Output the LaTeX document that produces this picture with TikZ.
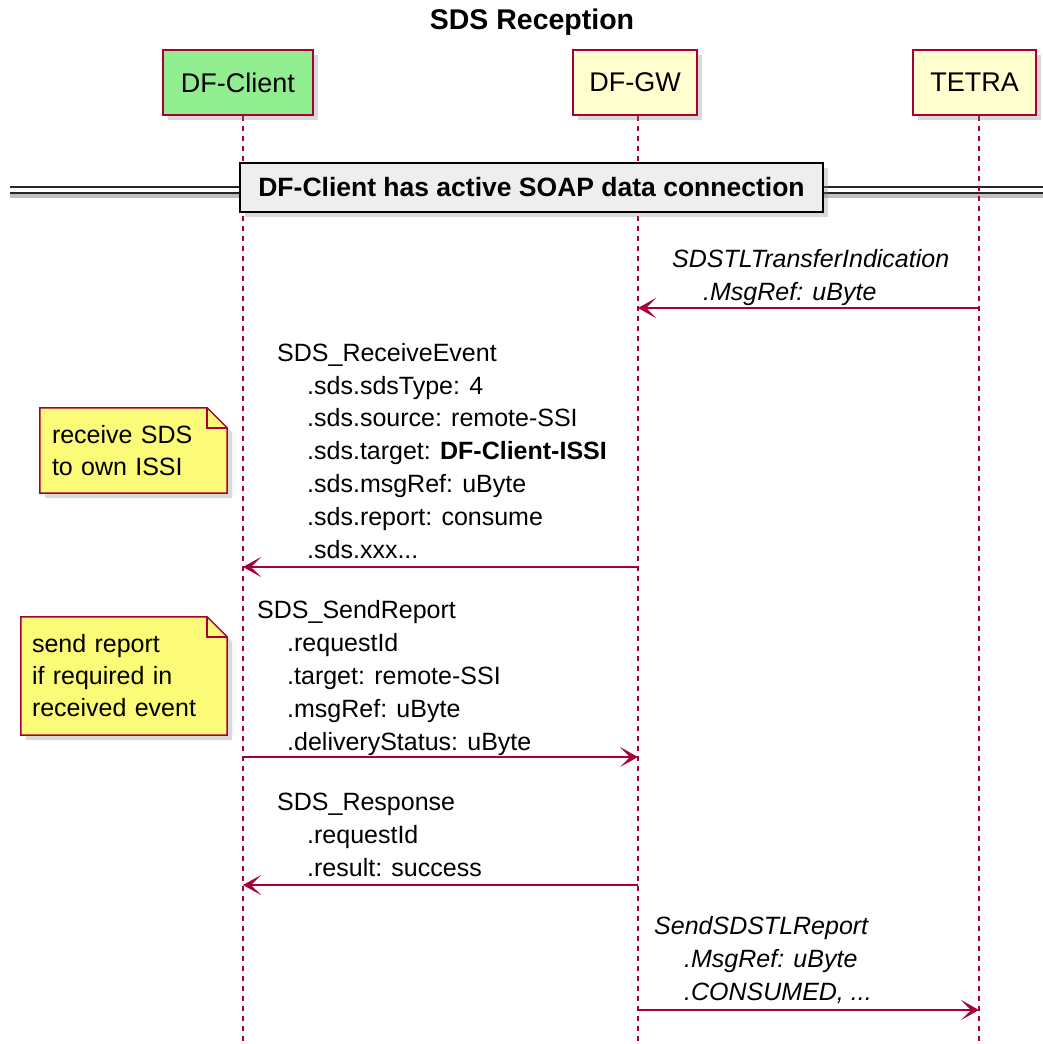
\documentclass[tikz,border=0pt]{standalone}
\usepackage{fontspec}
\setmainfont{Liberation Sans}
\usetikzlibrary{arrows.meta,shadows}
\definecolor{umlred}{HTML}{A80036}
\definecolor{umlyellow}{HTML}{FEFECE}
\definecolor{umlgreen}{HTML}{90EE90}
\definecolor{umlnote}{HTML}{FBFB77}
\definecolor{umlgrey}{HTML}{EEEEEE}
\pgfdeclarelayer{background layer}
\pgfsetlayers{background layer,main}
\tikzstyle{box}=[rectangle,draw=umlred,line width=2pt,fill=umlyellow,minimum height=65pt,inner sep=0pt,font=\fontsize{27}{32}\selectfont,drop shadow={shadow xshift=5pt,shadow yshift=-5pt,opacity=0.3}]
\tikzstyle{divbox}=[rectangle,draw=black,line width=2.5pt,fill=umlgrey,minimum width=583pt,minimum height=49pt,inner sep=0pt,font=\fontsize{26.5}{32}\selectfont\bfseries,drop shadow={shadow xshift=5pt,shadow yshift=-5pt,opacity=0.3}]
\tikzstyle{divline}=[black!85,line width=2pt,double=white,double distance=4pt]
\tikzstyle{life}=[umlred,line width=1.5pt,dash pattern=on 5pt off 5pt]
\tikzstyle{msg}=[umlred,line width=1.5pt,-{Stealth[length=18pt,width=20pt,inset=10pt]}]
\tikzstyle{lbl}=[anchor=base west,align=left,inner sep=0pt,font=\fontsize{25}{32.8}\selectfont]
\tikzstyle{note}=[align=left,inner sep=0pt,font=\fontsize{25}{32}\selectfont]
\tikzstyle{notepath}=[draw=umlred,fill=umlnote,line width=1.5pt,drop shadow={shadow xshift=5pt,shadow yshift=-5pt,opacity=0.3}]

\begin{document}
\begin{tikzpicture}[x=1pt,y=-1pt]
			\useasboundingbox (0,0) rectangle (1043,1044);
			\node (title) at (532,29) [anchor=base,inner sep=0pt,font=\fontsize{28.5}{32}\selectfont\bfseries] {SDS Reception};
			% participants
			\node (cl) at (238,82.5) [box,fill=umlgreen,minimum width=150pt] {DF-Client};
			\node (gw) at (635,82.5) [box,minimum width=124pt] {DF-GW};
			\node (te) at (974.5,82.5) [box,minimum width=123pt] {TETRA};
			\coordinate (clx) at (243,1044);
			\coordinate (gwx) at (638,1044);
			\coordinate (tex) at (979,1044);
			% divider
			\coordinate (dl) at (10,189.5);
			\coordinate (dr) at (1043,189.5);
			\node (div) at (531.5,187.5) [divbox] {DF-Client has active SOAP data connection};
			% notes
			\node (n1) at (133.5,450.5) [note,minimum width=187pt,minimum height=85pt,text width=163pt] {receive SDS\\to own ISSI};
			\node (n2) at (124,676) [note,minimum width=206pt,minimum height=118pt,text width=184pt] {send report\\if required in\\received event};
			% messages
			\coordinate (m1) at (0,308);
			\coordinate (m2) at (0,567);
			\coordinate (m3) at (0,757);
			\coordinate (m4) at (0,885);
			\coordinate (m5) at (0,1010);
			\node (l1) at (672,300) [lbl,font=\fontsize{25}{32.8}\selectfont\itshape] {SDSTLTransferIndication\\\hspace*{31pt}.MsgRef: uByte};
			\node (l2) at (277,558) [lbl] {SDS\_ReceiveEvent\\\hspace*{30pt}.sds.sdsType: 4\\\hspace*{30pt}.sds.source: remote-SSI\\\hspace*{30pt}.sds.target: \textbf{DF-Client-ISSI}\\\hspace*{30pt}.sds.msgRef: uByte\\\hspace*{30pt}.sds.report: consume\\\hspace*{30pt}.sds.xxx...};
			\node (l3) at (257,750) [lbl] {SDS\_SendReport\\\hspace*{30pt}.requestId\\\hspace*{30pt}.target: remote-SSI\\\hspace*{30pt}.msgRef: uByte\\\hspace*{30pt}.deliveryStatus: uByte};
			\node (l4) at (277,876) [lbl] {SDS\_Response\\\hspace*{30pt}.requestId\\\hspace*{30pt}.result: success};
			\node (l5) at (654,1000) [lbl,font=\fontsize{25}{32.8}\selectfont\itshape] {SendSDSTLReport\\\hspace*{30pt}.MsgRef: uByte\\\hspace*{30pt}.CONSUMED, ...};
			\begin{pgfonlayer}{background layer}
				\draw [black!25,line width=5pt] ([yshift=-6pt]dl) -- ([yshift=-6pt]dr);
				\draw [divline] (dl) -- (dr);
				\draw [life] (clx |- cl.south) -- (clx);
				\draw [life] (gwx |- gw.south) -- (gwx);
				\draw [life] (tex |- te.south) -- (tex);
				\draw [notepath] (n1.north west) -- ([xshift=-20pt]n1.north east) -- ([yshift=-20pt]n1.north east) -- (n1.south east) -- (n1.south west) -- cycle;
				\draw [umlred,line width=1.5pt] ([xshift=-20pt]n1.north east) |- ([yshift=-20pt]n1.north east);
				\draw [notepath] (n2.north west) -- ([xshift=-20pt]n2.north east) -- ([yshift=-20pt]n2.north east) -- (n2.south east) -- (n2.south west) -- cycle;
				\draw [umlred,line width=1.5pt] ([xshift=-20pt]n2.north east) |- ([yshift=-20pt]n2.north east);
			\end{pgfonlayer}
			\draw [msg] (m1 -| tex) -- (m1 -| gwx);
			\draw [msg] (m2 -| gwx) -- (m2 -| clx);
			\draw [msg] (m3 -| clx) -- (m3 -| gwx);
			\draw [msg] (m4 -| gwx) -- (m4 -| clx);
			\draw [msg] (m5 -| gwx) -- (m5 -| tex);
		\end{tikzpicture}
\end{document}
